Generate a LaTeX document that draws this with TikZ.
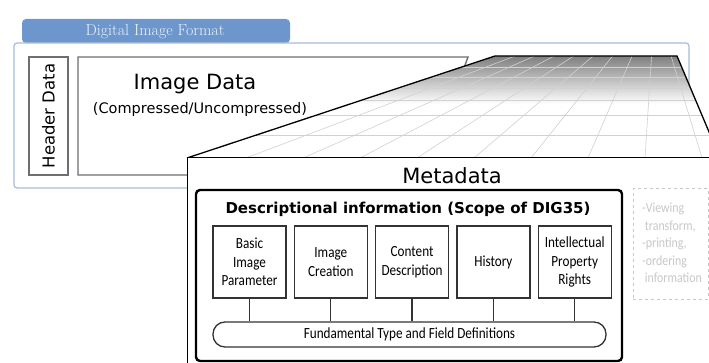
\documentclass[tikz,border=0pt]{standalone}
\usepackage{fontspec}
\newfontfamily\lucfont{DejaVu Sans}
\newfontfamily\condfont{Carlito}[FakeStretch=0.85]
\usetikzlibrary{positioning}
\definecolor{tabblue}{RGB}{108,150,204}
\definecolor{tabtext}{RGB}{236,241,250}
\definecolor{framegray}{RGB}{168,188,214}
\definecolor{boxgray}{RGB}{110,110,115}
\definecolor{notegray}{RGB}{200,200,200}
\tikzset{
  framebox/.style={draw=framegray, line width=1.2pt, rounded corners=3pt},
  tabnode/.style={fill=tabblue, rounded corners=4pt, minimum width=268pt, minimum height=24pt, inner sep=0pt},
  tabtitle/.style={text=tabtext, font=\fontsize{16}{19}\selectfont, inner sep=0pt},
  hdrbox/.style={draw=boxgray, line width=1.2pt, rotate=90, minimum width=118pt, minimum height=39pt, inner sep=0pt, font=\lucfont\fontsize{16.5}{19}\selectfont},
  bigtext/.style={font=\lucfont\fontsize{21}{25}\selectfont, inner sep=0pt},
  subtext/.style={font=\lucfont\fontsize{14.5}{17}\selectfont, inner sep=0pt},
  gridline/.style={draw=black!18, line width=0.6pt},
  scopebox/.style={draw=black, line width=2.4pt, rounded corners=4pt},
  scopetitle/.style={font=\lucfont\bfseries\fontsize{15}{18}\selectfont, inner sep=0pt},
  fieldbox/.style={draw=black!80, line width=1.3pt, minimum width=73pt, minimum height=72pt, inner sep=0pt, align=center, font=\condfont\fontsize{15.5}{18.5}\selectfont},
  basebar/.style={draw=black!80, line width=1.3pt, rounded corners=12pt, minimum width=393pt, minimum height=25pt, inner sep=0pt, font=\condfont\fontsize{15.5}{17}\selectfont},
  notebox/.style={draw=notegray, line width=1pt, dashed, minimum width=75pt, minimum height=110pt, inner sep=0pt},
  notetext/.style={text=notegray, align=left, inner sep=0pt, font=\condfont\fontsize{14}{17.5}\selectfont}
}
\begin{document}
\begin{tikzpicture}[x=1pt, y=-1pt]
  \useasboundingbox (0,0) rectangle (709,363);
  \clip (0,0) rectangle (709,363);

  % container of the image format
  \node[tabnode] (tab) at (156,31) {};
  \draw[framebox, fill=white] (14,43) rectangle (689,188);
  \node[tabtitle] (tablabel) at (155,32) {Digital Image Format};
  \node[hdrbox] (header) at (48.5,116) {Header Data};
  \draw[boxgray, line width=1.4pt] (464,68) -- (468,57) -- (78,57) -- (78,175) -- (200,175);
  \node[bigtext] (imgdata) at (195,84) {Image Data};
  \node[subtext] (imgsub) at (200,110) {(Compressed/Uncompressed)};

  % perspective plane
  \coordinate (pa) at (495,56);
  \coordinate (pb) at (677,56);
  \coordinate (pc) at (720,158);
  \coordinate (pd) at (187,158);
  \coordinate (vp) at (655,3);
  \begin{scope}
    \clip (pa) -- (pb) -- (pc) -- (pd) -- cycle;
    \fill[white] (pa) -- (pb) -- (pc) -- (pd) -- cycle;
    \shade[top color=black!50, bottom color=white] (180,56) rectangle (720,104);
    \foreach \xb in {246,303,360,417,474,531,588,645,702}
      \draw[gridline] (\xb,158) -- (vp);
    \foreach \yb in {67,77,88,100,115,135}
      \draw[gridline] (180,\yb) -- (720,\yb);
  \end{scope}
  \draw[line width=1.3pt] (pd) -- (pa) -- (pb) -- (pc);

  % metadata
  \draw[line width=1pt, fill=white] (187,158) rectangle (730,380);
  \node[bigtext] (meta) at (452,176) {Metadata};
  \draw[scopebox] (196,190) rectangle (622,361);
  \node[scopetitle] (scope) at (408,209) {Descriptional information (Scope of DIG35)};

  \node[fieldbox] (basic) at (249.5,262) {Basic\\Image\\Parameter};
  \node[fieldbox, right=7pt of basic] (creation) {Image\\Creation};
  \node[fieldbox, right=7pt of creation] (content) {Content\\Description};
  \node[fieldbox, right=7pt of content] (history) {History};
  \node[fieldbox, right=7pt of history] (ipr) {Intellectual\\Property\\Rights};

  \node[basebar] (types) at (409.5,334.5) {Fundamental Type and Field Definitions};
  \foreach \f in {basic,creation,content,history,ipr}
    \draw[black!80, line width=1.3pt] (\f.south) -- (\f.south |- types.north);

  \node[notebox] (extra) at (670.5,244) {};
  \node[notetext, anchor=north west] (extratext) at (642,203) {-Viewing\\\ transform,\\-printing,\\-ordering\\\ information};
\end{tikzpicture}
\end{document}
